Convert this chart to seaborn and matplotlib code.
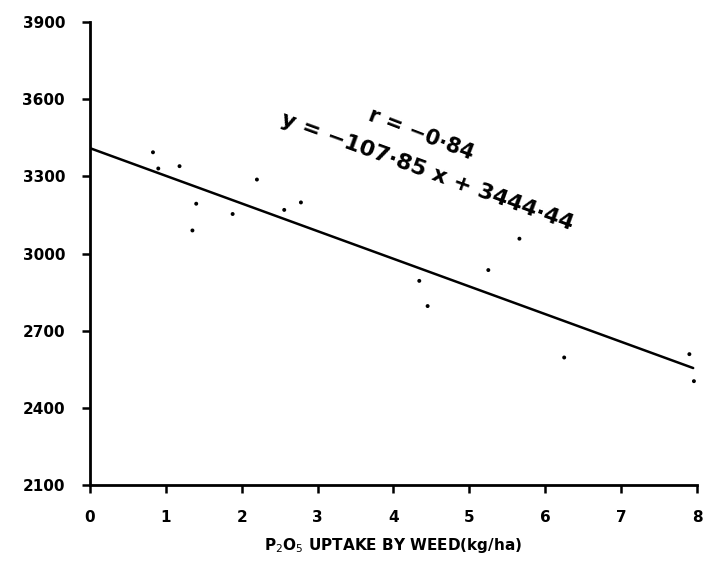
import numpy as np
import pandas as pd
import matplotlib
matplotlib.use("Agg")
import matplotlib.pyplot as plt
import seaborn as sns

# ─────────────────────────────────────────────
# DATA
# ─────────────────────────────────────────────
weed_p2o5 = [0.83, 0.90, 1.18, 1.40, 1.35, 1.88, 2.20, 2.56, 2.78,
             4.34, 4.45, 5.25, 5.66, 6.25, 7.90, 7.96]
grain_yield = [3394, 3331, 3340, 3194, 3090, 3154, 3288, 3170, 3199,
               2894, 2796, 2936, 3058, 2596, 2609, 2504]

fit_x = [0.0, 7.95]
fit_y = [3410, 2555]

x_ticks = [0, 1, 2, 3, 4, 5, 6, 7, 8]
y_ticks = [2100, 2400, 2700, 3000, 3300, 3600, 3900]

r_text = "r = −0·84"
eq_text = "y = −107·85 x + 3444·44"
x_label = r"P$_2$O$_5$ UPTAKE BY WEED(kg/ha)"

# ─────────────────────────────────────────────
# PLOT
# ─────────────────────────────────────────────
sns.set_theme(style="ticks")
plt.rcParams["font.family"] = ["DejaVu Sans"]
plt.rcParams["text.color"] = "black"
plt.rcParams["xtick.color"] = "black"
plt.rcParams["ytick.color"] = "black"

pts = pd.DataFrame({"x": weed_p2o5, "y": grain_yield})
line = pd.DataFrame({"x": fit_x, "y": fit_y})

fig = plt.figure(figsize=(7.2, 5.83), dpi=100)
ax = fig.add_axes([0.125, 0.168, 0.843, 0.794])

sns.lineplot(data=line, x="x", y="y", ax=ax, color="black", linewidth=1.8)
sns.scatterplot(data=pts, x="x", y="y", ax=ax, color="black", s=8,
                edgecolor="none")

ax.set_xlim(0, 8)
ax.set_ylim(2100, 3900)
ax.set_xticks(x_ticks)
ax.set_yticks(y_ticks)
ax.set_xticklabels([str(t) for t in x_ticks], fontweight="bold", fontsize=11)
ax.set_yticklabels([str(t) for t in y_ticks], fontweight="bold", fontsize=11)
ax.tick_params(axis="both", colors="black", labelcolor="black", width=1.8, length=6)
ax.tick_params(axis="y", pad=12)
ax.tick_params(axis="x", pad=12)

for side in ["top", "right"]:
    ax.spines[side].set_visible(False)
for side in ["left", "bottom"]:
    ax.spines[side].set_linewidth(2)
    ax.spines[side].set_color("black")

ax.set_xlabel(x_label, fontsize=11, fontweight="bold", labelpad=8, color="black")
ax.set_ylabel("")

ax.text(4.36, 3465, r_text, rotation=-21, fontsize=15, fontweight="bold",
        ha="center", va="center", color="black")
ax.text(4.44, 3317, eq_text, rotation=-20, fontsize=16, fontweight="bold",
        ha="center", va="center", color="black")

fig.savefig("out.png", dpi=100)
plt.close(fig)
